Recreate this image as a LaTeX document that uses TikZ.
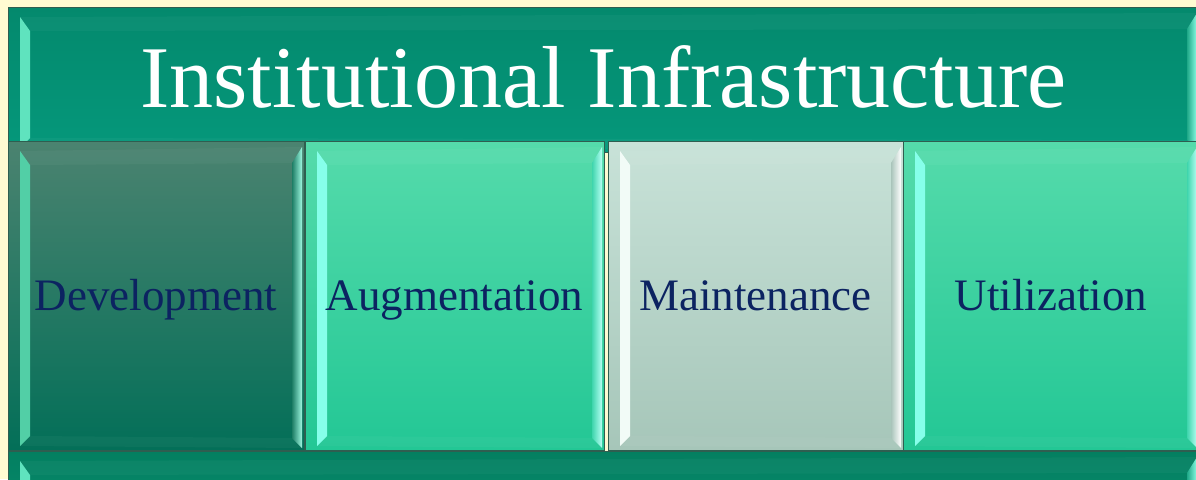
\documentclass[tikz,border=0pt]{standalone}
\usepackage{fontspec}
\setmainfont{Liberation Serif}
\usetikzlibrary{calc}
\definecolor{bg}{HTML}{FFFBD2}
\definecolor{barTop}{HTML}{04896D}
\definecolor{barBot}{HTML}{05987B}
\definecolor{barL}{HTML}{5FE3BE}
\definecolor{barRi}{HTML}{1FA888}
\definecolor{barRo}{HTML}{8CFFE6}
\definecolor{baseTop}{HTML}{047F60}
\definecolor{baseBot}{HTML}{07967A}
\definecolor{edge}{HTML}{2F5E50}
\definecolor{devTop}{HTML}{4B8370}
\definecolor{devMid}{HTML}{177C64}
\definecolor{devBot}{HTML}{036F58}
\definecolor{devL}{HTML}{52CFA6}
\definecolor{devRi}{HTML}{1E7E66}
\definecolor{devRo}{HTML}{9DF7E0}
\definecolor{augTop}{HTML}{55DBAB}
\definecolor{augBot}{HTML}{23C795}
\definecolor{augL}{HTML}{86FFEA}
\definecolor{augRi}{HTML}{3FD5AD}
\definecolor{augRo}{HTML}{B5FFF3}
\definecolor{mntTop}{HTML}{C8E2D8}
\definecolor{mntBot}{HTML}{A6C6B9}
\definecolor{mntL}{HTML}{F2FBF7}
\definecolor{mntRi}{HTML}{A9C4BA}
\definecolor{mntRo}{HTML}{FFFFFF}
\definecolor{navy}{HTML}{0C2361}
\newcommand\bevelpp[3]{%
  \fill[#1] ($(path picture bounding box.north west)+(12,10)$) -- ($(path picture bounding box.north west)+(22,24)$) -- ($(path picture bounding box.south west)+(22,-14)$) -- ($(path picture bounding box.south west)+(12,-4)$) -- cycle;
  \shade[left color=#2, right color=#3] ($(path picture bounding box.north east)+(-12,22)$) -- ($(path picture bounding box.north east)+(-2,6)$) -- ($(path picture bounding box.south east)+(-2,-2)$) -- ($(path picture bounding box.south east)+(-12,-12)$) -- cycle;
  \fill[white, opacity=0.035] ($(path picture bounding box.north west)+(12,10)$) -- ($(path picture bounding box.north east)+(-2,6)$) -- ($(path picture bounding box.north east)+(-12,22)$) -- ($(path picture bounding box.north west)+(22,24)$) -- cycle;
  \fill[white, opacity=0.035] ($(path picture bounding box.south west)+(12,-4)$) -- ($(path picture bounding box.south west)+(22,-14)$) -- ($(path picture bounding box.south east)+(-12,-12)$) -- ($(path picture bounding box.south east)+(-2,-2)$) -- cycle;
}
\tikzset{
  bevel/.style n args={3}{path picture={\bevelpp{#1}{#2}{#3}}},
  bar/.style={rectangle, inner sep=0pt, draw=edge, line width=0.8pt, minimum width=1191pt},
  tile/.style={rectangle, inner sep=0pt, draw=edge, line width=0.8pt,
    minimum height=309pt, text=navy, font=\fontsize{45}{45}\selectfont,
    text height=29pt, text depth=0pt},
}
\begin{document}
\begin{tikzpicture}[x=1pt,y=-1pt]
\useasboundingbox (0,0) rectangle (1196,479);
\clip (0,0) rectangle (1196,479);
\fill[bg] (0,0) rectangle (1196,479);
\node[bar, minimum height=145pt, top color=barTop, bottom color=barBot,
  bevel={barL}{barRi}{barRo}, text=white, font=\fontsize{88}{88}\selectfont,
  text height=55pt, text depth=0pt] (title) at (603.5,79.5) {Institutional Infrastructure};
\node[bar, minimum height=134pt, top color=baseTop, bottom color=baseBot,
  bevel={barL}{barRi}{barRo}] (base) at (603.5,518) {};
\node[tile, minimum width=296pt, top color=devTop, middle color=devMid, bottom color=devBot,
  bevel={devL}{devRi}{devRo}] (dev) at (156,295.5) {Development};
\node[tile, minimum width=299pt, top color=augTop, bottom color=augBot,
  bevel={augL}{augRi}{augRo}] (aug) at (454.5,295.5) {Augmentation};
\node[tile, minimum width=295pt, top color=mntTop, bottom color=mntBot,
  bevel={mntL}{mntRi}{mntRo}] (mnt) at (755.5,295.5) {Maintenance};
\node[tile, minimum width=296pt, top color=augTop, bottom color=augBot,
  bevel={augL}{augRi}{augRo}] (utl) at (1051,295.5) {Utilization};
\end{tikzpicture}
\end{document}
